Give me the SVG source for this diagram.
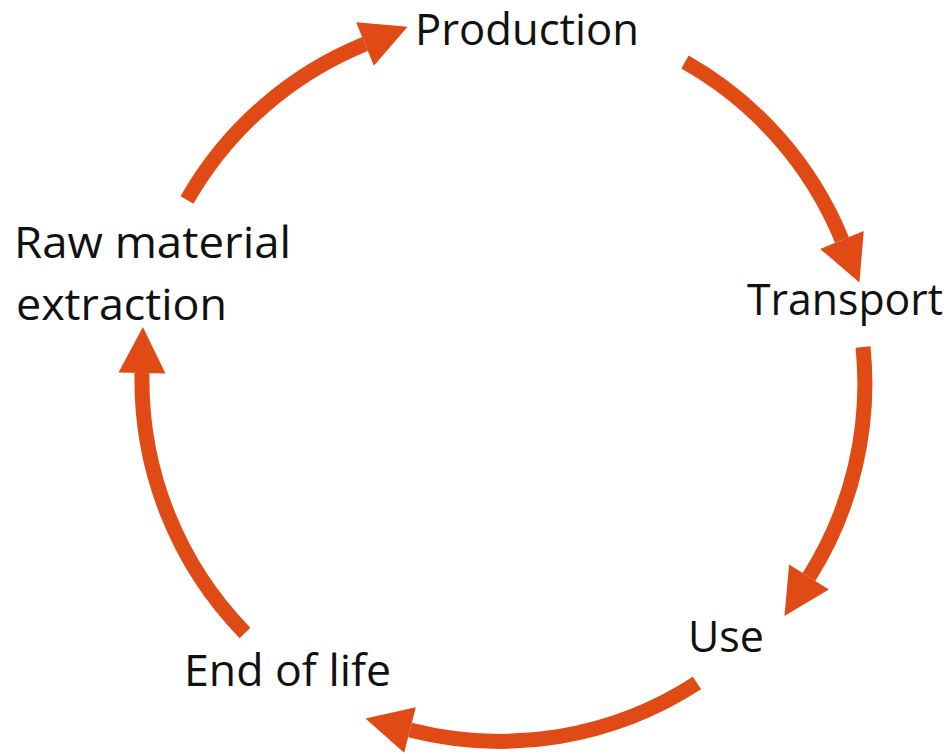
<svg xmlns="http://www.w3.org/2000/svg" width="951" height="754" viewBox="0 0 951 754">
<style>
  .lbl { font-family: "Open Sans", "Liberation Sans", sans-serif; font-size: 43px; fill: #111111; }
  .arc { fill: none; stroke: #DF4A15; stroke-width: 15; }
</style>
<defs>
  <marker id="head" markerUnits="userSpaceOnUse" markerWidth="48" markerHeight="50" refX="0" refY="23.5" orient="auto" overflow="visible">
    <path d="M0,0 L46,23.5 L0,47 Z" fill="#DF4A15"/>
  </marker>
</defs>
<rect width="951" height="754" fill="#ffffff"/>
<g id="connectors">
  <path class="arc" d="M187,200 A362,362 0 0 1 365,44" marker-end="url(#head)"/>
  <path class="arc" d="M685,62 A362,362 0 0 1 842,240" marker-end="url(#head)"/>
  <path class="arc" d="M863,347 A362,362 0 0 1 809,577" marker-end="url(#head)"/>
  <path class="arc" d="M697,683 A362,362 0 0 1 410,730" marker-end="url(#head)"/>
  <path class="arc" d="M245,633 A362,362 0 0 1 142,373" marker-end="url(#head)"/>
</g>
<g id="production"><text class="lbl" x="415" y="45" textLength="224" lengthAdjust="spacingAndGlyphs">Production</text></g>
<g id="transport"><text class="lbl" x="747" y="315" textLength="196" lengthAdjust="spacingAndGlyphs">Transport</text></g>
<g id="use"><text class="lbl" x="688" y="652" textLength="76" lengthAdjust="spacingAndGlyphs">Use</text></g>
<g id="end-of-life"><text class="lbl" x="184" y="686" textLength="207" lengthAdjust="spacingAndGlyphs">End of life</text></g>
<g id="raw-material"><text class="lbl" x="14" y="258" textLength="277" lengthAdjust="spacingAndGlyphs">Raw material</text><text class="lbl" x="16" y="320" textLength="211" lengthAdjust="spacingAndGlyphs">extraction</text></g>
</svg>
